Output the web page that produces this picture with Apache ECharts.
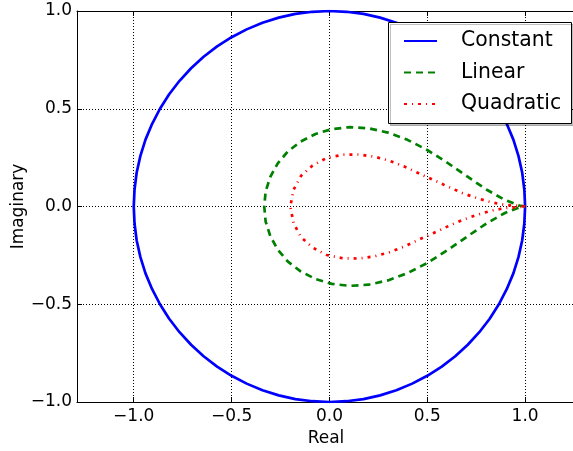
<!DOCTYPE html>
<html>
<head>
<meta charset="utf-8">
<script src="https://cdn.jsdelivr.net/npm/echarts@6/dist/echarts.min.js"></script>
<style>
  html, body { margin: 0; padding: 0; background: #fff; }
  #chart { width: 573px; height: 451px; }
</style>
</head>
<body>
<div id="chart"></div>
<script>
// ---- data ----
const seriesNames = ['Constant', 'Linear', 'Quadratic'];
const xTicks = [-1.0, -0.5, 0.0, 0.5, 1.0];
const yTicks = [-1.0, -0.5, 0.0, 0.5, 1.0];

const constantRe = [1, 0.996, 0.985, 0.966, 0.940, 0.906, 0.866, 0.819, 0.766, 0.707, 0.643, 0.574, 0.5, 0.423, 0.342, 0.259, 0.174, 0.087,
                    0, -0.087, -0.174, -0.259, -0.342, -0.423, -0.5, -0.574, -0.643, -0.707, -0.766, -0.819, -0.866, -0.906, -0.940, -0.966, -0.985, -0.996,
                    -1, -0.996, -0.985, -0.966, -0.940, -0.906, -0.866, -0.819, -0.766, -0.707, -0.643, -0.574, -0.5, -0.423, -0.342, -0.259, -0.174, -0.087,
                    0, 0.087, 0.174, 0.259, 0.342, 0.423, 0.5, 0.574, 0.643, 0.707, 0.766, 0.819, 0.866, 0.906, 0.940, 0.966, 0.985, 0.996, 1];
const constantIm = [0, 0.087, 0.174, 0.259, 0.342, 0.423, 0.5, 0.574, 0.643, 0.707, 0.766, 0.819, 0.866, 0.906, 0.940, 0.966, 0.985, 0.996,
                    1, 0.996, 0.985, 0.966, 0.940, 0.906, 0.866, 0.819, 0.766, 0.707, 0.643, 0.574, 0.5, 0.423, 0.342, 0.259, 0.174, 0.087,
                    0, -0.087, -0.174, -0.259, -0.342, -0.423, -0.5, -0.574, -0.643, -0.707, -0.766, -0.819, -0.866, -0.906, -0.940, -0.966, -0.985, -0.996,
                    -1, -0.996, -0.985, -0.966, -0.940, -0.906, -0.866, -0.819, -0.766, -0.707, -0.643, -0.574, -0.5, -0.423, -0.342, -0.259, -0.174, -0.087, 0];

const linearRe = [1, 0.971, 0.897, 0.802, 0.702, 0.601, 0.5, 0.399, 0.299, 0.2, 0.104, 0.013, -0.071, -0.147, -0.212, -0.264, -0.302, -0.326, -0.333,
                  -0.326, -0.302, -0.264, -0.212, -0.147, -0.071, 0.013, 0.104, 0.2, 0.299, 0.399, 0.5, 0.601, 0.702, 0.802, 0.897, 0.971, 1];
const linearIm = [0, 0.005, 0.033, 0.087, 0.155, 0.225, 0.289, 0.341, 0.378, 0.4, 0.406, 0.396, 0.371, 0.332, 0.282, 0.221, 0.152, 0.077, 0,
                  -0.077, -0.152, -0.221, -0.282, -0.332, -0.371, -0.396, -0.406, -0.4, -0.378, -0.341, -0.289, -0.225, -0.155, -0.087, -0.033, -0.005, 0];

const quadraticRe = [1, 0.983, 0.898, 0.829, 0.753, 0.679, 0.602, 0.530, 0.454, 0.384, 0.307, 0.230, 0.150, 0.068, -0.014, -0.086, -0.145, -0.183, -0.200,
                     -0.183, -0.145, -0.086, -0.014, 0.068, 0.150, 0.230, 0.307, 0.384, 0.454, 0.530, 0.602, 0.679, 0.753, 0.829, 0.898, 0.983, 1];
const quadraticIm = [0, 0.002, 0.008, 0.021, 0.043, 0.069, 0.103, 0.137, 0.171, 0.204, 0.234, 0.255, 0.266, 0.265, 0.248, 0.210, 0.157, 0.086, 0,
                     -0.086, -0.157, -0.210, -0.248, -0.265, -0.266, -0.255, -0.234, -0.204, -0.171, -0.137, -0.103, -0.069, -0.043, -0.021, -0.008, -0.002, 0];

// ---- chart ----
const FONT = 'DejaVu Sans';
const zip = (a, b) => a.map((v, i) => [v, b[i]]);
const fmt = v => (Math.abs(v) < 1e-9 ? '0.0' : v.toFixed(1)).replace('-', '\u2212');

const gridLine = { show: true, lineStyle: { color: '#000', width: 1, type: [1, 2] } };
const axisLine = { show: true, onZero: false, lineStyle: { color: '#000', width: 1 } };

const chart = echarts.init(document.getElementById('chart'), null, { renderer: 'canvas' });
chart.setOption({
  animation: false,
  backgroundColor: '#fff',
  textStyle: { fontFamily: FONT },
  grid: { left: 77, right: -2, top: 11, bottom: 49, containLabel: false, outerBoundsMode: 'none' },
  graphic: {
    elements: [
      {
        type: 'rect', z: 50, zlevel: 0, silent: true,
        shape: { x: 388.5, y: 22.5, width: 183, height: 101 },
        style: { fill: '#fff', stroke: '#000', lineWidth: 1,
                 shadowColor: 'rgba(0,0,0,0.25)', shadowOffsetX: 2, shadowOffsetY: 2, shadowBlur: 0 }
      }
    ]
  },
  xAxis: [
    {
      type: 'value', position: 'bottom', min: -1.29, max: 1.255,
      axisLine: axisLine,
      axisTick: { show: true, inside: true, length: 5, lineStyle: { color: '#000' }, customValues: xTicks },
      axisLabel: { customValues: xTicks, formatter: fmt, fontSize: 17, color: '#000', margin: 6, fontFamily: FONT },
      splitLine: gridLine,
      name: 'Real', nameLocation: 'middle', nameGap: 27,
      nameTextStyle: { fontSize: 17, color: '#000', fontFamily: FONT }
    },
    {
      type: 'value', position: 'top', min: -1.29, max: 1.255,
      axisLine: axisLine,
      axisTick: { show: true, inside: true, length: 5, lineStyle: { color: '#000' }, customValues: xTicks },
      axisLabel: { show: false },
      splitLine: { show: false }
    }
  ],
  yAxis: [
    {
      type: 'value', position: 'left', min: -1, max: 1, interval: 0.5,
      axisLine: axisLine,
      axisTick: { show: true, inside: true, length: 5, lineStyle: { color: '#000' } },
      axisLabel: { formatter: fmt, fontSize: 17, color: '#000', margin: 5, fontFamily: FONT },
      splitLine: gridLine,
      name: 'Imaginary', nameLocation: 'middle', nameGap: 50, nameMoveOverlap: false,
      nameTextStyle: { fontSize: 17, color: '#000', fontFamily: FONT }
    }
  ],
  legend: {
    orient: 'vertical',
    left: 388, top: 22, z: 60,
    padding: [8, 10, 8, 15],
    itemWidth: 33, itemHeight: 14, itemGap: 9.5,
    itemStyle: { opacity: 0 },
    textStyle: { fontSize: 20.4, color: '#000', fontFamily: FONT, lineHeight: 22, padding: [0, 0, 0, 19] },
    data: seriesNames
  },
  series: [
    {
      name: seriesNames[0], type: 'line', data: zip(constantRe, constantIm), z: 2,
      symbol: 'none', showSymbol: false, smooth: false,
      lineStyle: { color: '#0000ff', width: 2.7, type: 'solid' },
      itemStyle: { color: '#0000ff' }
    },
    {
      name: seriesNames[1], type: 'line', data: zip(linearRe, linearIm), z: 2,
      symbol: 'none', showSymbol: false, smooth: false,
      lineStyle: { color: '#008000', width: 2.7, type: [7, 5] },
      itemStyle: { color: '#008000' }
    },
    {
      name: seriesNames[2], type: 'line', data: zip(quadraticRe, quadraticIm), z: 2,
      symbol: 'none', showSymbol: false, smooth: false,
      lineStyle: { color: '#ff0000', width: 2.7, type: [3, 5, 1, 5] },
      itemStyle: { color: '#ff0000' }
    }
  ]
});
</script>
</body>
</html>
